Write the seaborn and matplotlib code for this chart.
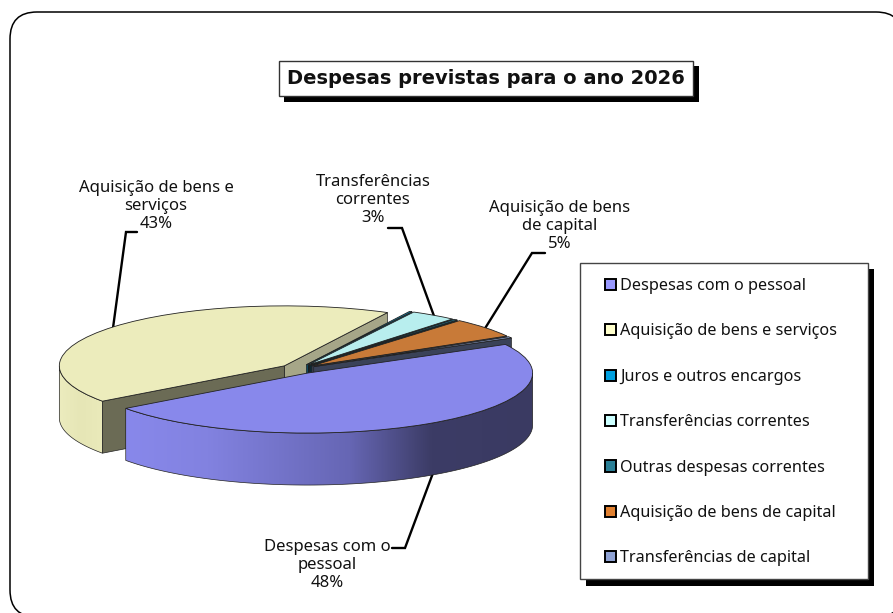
import numpy as np
import matplotlib
matplotlib.use("Agg")
import matplotlib.pyplot as plt
from matplotlib.colors import LinearSegmentedColormap
from matplotlib.patches import Patch, Polygon, Rectangle, FancyBboxPatch
import seaborn as sns

categories = ["Despesas com o pessoal", "Aquisição de bens e serviços", "Juros e outros encargos",
              "Transferências correntes", "Outras despesas correntes", "Aquisição de bens de capital",
              "Transferências de capital"]
values = [47.9, 42.6, 0.2, 3.3, 0.3, 5.3, 0.4]
top_colors = ["#8888EB", "#ECECBC", "#0A86B0", "#B8EEEE", "#1E6478", "#C87A38", "#7F92BC"]
legend_colors = ["#9999FF", "#FFFFCC", "#00A0E0", "#CCFFFF", "#2A7F96", "#E08030", "#8FA2D4"]
wall_colors = ["#3A3A62", "#6B6B55", "#0A5A76", "#10181C", "#0C2A34", "#3A4258", "#3A4258"]
explode = [0.08, 0.08, 0.08, 0.08, 0.08, 0.08, 0.08]

label_texts = {0: "Despesas com o\npessoal", 1: "Aquisição de bens e\nserviços",
               3: "Transferências\ncorrentes", 5: "Aquisição de bens\nde capital"}

sns.set_theme(style="white")
plt.rcParams["font.family"] = ["Noto Sans", "DejaVu Sans"]

W, H = 893, 613
fig = plt.figure(figsize=(W / 100, H / 100), dpi=100)

# overlay in pixel coords, for frame / labels / leaders
bg = fig.add_axes([0, 0, 1, 1])
bg.set_xlim(0, W)
bg.set_ylim(H, 0)
bg.axis("off")

bg.add_patch(FancyBboxPatch((10, 12), 893, 605, boxstyle="round,pad=0,rounding_size=27",
                            fc="white", ec="black", lw=1.1))

# pie axes: 1 data unit = 225 px across, 60 px down
RX, RY, DEPTH = 225, 60, 52 / 60
cx, cy = 298, 369
left, right = cx - 1.3 * RX, cx + 1.3 * RX
top, bottom = cy - 1.3 * RY, cy + 2.3 * RY
ax = fig.add_axes([left / W, 1 - bottom / H, (right - left) / W, (bottom - top) / H])
ax.patch.set_alpha(0)

wedges, _ = ax.pie(values, colors=sns.color_palette(top_colors), explode=explode, startangle=28.5,
                   counterclock=False, radius=1,
                   wedgeprops={"edgecolor": "#222222", "linewidth": 0.6})
ax.set_aspect("auto")

zc = [1]


def z():
    zc[0] += 1
    return zc[0]


def rim(w, t):
    a = np.radians(t)
    return np.column_stack([w.center[0] + np.cos(a), w.center[1] + np.sin(a)])


def face(w, t, color):
    p = rim(w, np.array([t]))[0]
    c = np.array(w.center)
    d = np.array([0, DEPTH])
    ax.add_patch(Polygon([c, p, p - d, c - d], closed=True, fc=color, ec="#222222", lw=0.5, zorder=z()))


def gradient_wall(w, t1, t2, stops):
    # horizontal gradient clipped to the curved side of a slice
    up = rim(w, np.linspace(t1, t2, 120))
    poly = Polygon(np.vstack([up, (up - [0, DEPTH])[::-1]]), closed=True, fc="none", ec="#222222",
                   lw=0.5, zorder=z())
    ax.add_patch(poly)
    cmap = LinearSegmentedColormap.from_list("wall", stops)
    xs = np.linspace(0, 1, 256)[None, :]
    im = ax.imshow(xs, cmap=cmap, extent=[up[:, 0].min(), up[:, 0].max(), -2.3, 1.3], aspect="auto",
                   zorder=zc[0])
    im.set_clip_path(poly)
    poly.set_zorder(z())


# back to front: yellow, then the small slices, purple last
# theta1 < theta2 on each wedge, clockwise pie so theta2 is where the slice starts
y = wedges[1]
face(y, y.theta1, "#A6A688")
gradient_wall(y, 180, y.theta2 + 360, [(0, "#ECECBE"), (0.5, "#E6E6B6"), (1, "#EAEABA")])
face(y, y.theta2, wall_colors[1])
y.set_zorder(z())

for i in [2, 3, 4, 5, 6]:
    w = wedges[i]
    face(w, w.theta1, wall_colors[i])
    w.set_zorder(z())

p = wedges[0]
gradient_wall(p, p.theta1, 0,
              [(0, "#8888EB"), (0.2, "#8282E0"), (0.55, "#6666B4"), (0.75, "#3C3C66"), (1, "#3A3A62")])
p.set_zorder(z())
ax.set_xlim(-1.3, 1.3)
ax.set_ylim(-2.3, 1.3)

# leaders
leaders = {1: [(113, 328), (126, 232), (137, 232)], 3: [(434, 316), (402, 228), (388, 228)],
           5: [(484, 330), (532, 253), (545, 253)], 0: [(433, 473), (405, 548), (392, 548)]}
for pts in leaders.values():
    xs, ys = zip(*pts)
    bg.plot(xs, ys, color="black", lw=1.7, solid_joinstyle="miter")

label_pos = {1: (156, 206), 3: (373, 200), 5: (560, 226), 0: (327, 565)}
for i, (lx, ly) in label_pos.items():
    bg.text(lx, ly, f"{label_texts[i]}\n{round(values[i])}%", ha="center", va="center",
            fontsize=12, color="#111111", linespacing=1.15)

# title box
bg.add_patch(Rectangle((284, 66), 415, 36, fc="black", ec="none"))
bg.add_patch(Rectangle((278.5, 60.5), 414, 35, fc="white", ec="#333333", lw=1))
bg.text(486, 79, "Despesas previstas para o ano 2026", ha="center", va="center",
        fontsize=14, fontweight="bold", family="DejaVu Sans", color="#111111")

# legend box
bg.add_patch(Rectangle((586, 269), 288, 317, fc="black", ec="none"))
bg.add_patch(Rectangle((580, 263), 288, 316, fc="white", ec="#444444", lw=1))
handles = [Patch(fc=c, ec="black", lw=1.4) for c in legend_colors]
ax.legend(handles, categories, frameon=False, loc="upper left", borderpad=0, borderaxespad=0,
          bbox_to_anchor=(605 / W, 1 - 278 / H), bbox_transform=fig.transFigure,
          fontsize=11.7, handlelength=0.68, handleheight=0.68, handletextpad=0.25,
          labelspacing=1.81, labelcolor="#111111")

fig.savefig("out.png", dpi=100)
